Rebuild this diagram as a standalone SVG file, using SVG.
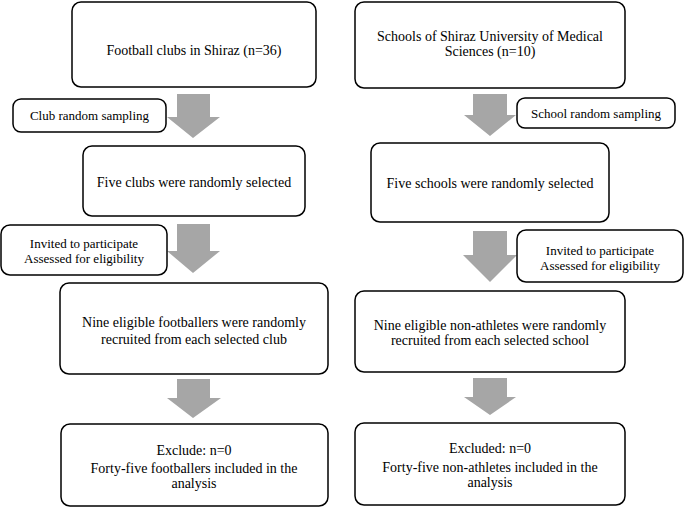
<svg xmlns="http://www.w3.org/2000/svg" width="685" height="507" viewBox="0 0 685 507">
<style>
.box{fill:#fff;stroke:#000;stroke-width:1.5}
.t{font-family:"Liberation Serif","Times New Roman",serif;font-size:14px;fill:#000;text-anchor:middle}
.s{font-size:13px}
.arr{fill:#a6a6a6;stroke:none}
</style>
<rect width="685" height="507" fill="#fff"/>
<g id="connectors">
<polygon class="arr" points="177,94 210,94 210,117 220,117 193,138 167,117 177,117"/>
<polygon class="arr" points="177,224 210,224 210,251 220,251 193,273 167,251 177,251"/>
<polygon class="arr" points="177,379 210,379 210,398 221,398 193,418 167,398 177,398"/>
<polygon class="arr" points="473,94 507,94 507,115 516,115 490,136 464,115 473,115"/>
<polygon class="arr" points="473,231 507,231 507,255 517,255 490,282 463,255 473,255"/>
<polygon class="arr" points="473,378 507,378 507,397 516,397 490,415 464,397 473,397"/>
</g>
<g id="n1"><rect class="box" x="72" y="2" width="244" height="85" rx="9"/><text class="t" x="194" y="55">Football clubs in Shiraz (n=36)</text></g>
<g id="n2"><rect class="box" x="13" y="99" width="153" height="33" rx="8"/><text class="t s" x="89.5" y="120">Club random sampling</text></g>
<g id="n3"><rect class="box" x="83" y="146" width="222" height="70" rx="9"/><text class="t" x="194" y="187">Five clubs were randomly selected</text></g>
<g id="n4"><rect class="box" x="1" y="225" width="166" height="50" rx="9"/><text class="t s" x="84" y="248">Invited to participate</text><text class="t s" x="84" y="263">Assessed for eligibility</text></g>
<g id="n5"><rect class="box" x="60" y="283" width="268" height="91" rx="9"/><text class="t" x="194" y="327">Nine eligible footballers were randomly</text><text class="t" x="194" y="344">recruited from each selected club</text></g>
<g id="n6"><rect class="box" x="61" y="424" width="267" height="82" rx="9"/><text class="t" x="194" y="455">Exclude: n=0</text><text class="t" x="194" y="473">Forty-five footballers included in the</text><text class="t" x="194" y="488">analysis</text></g>
<g id="n7"><rect class="box" x="355" y="2" width="270" height="86" rx="9"/><text class="t" x="490" y="41">Schools of Shiraz University of Medical</text><text class="t" x="490" y="56">Sciences (n=10)</text></g>
<g id="n8"><rect class="box" x="517" y="98" width="158" height="30" rx="8"/><text class="t s" x="596" y="118">School random sampling</text></g>
<g id="n9"><rect class="box" x="371" y="143" width="238" height="79" rx="9"/><text class="t" x="490" y="188">Five schools were randomly selected</text></g>
<g id="n10"><rect class="box" x="517" y="230" width="166" height="52" rx="9"/><text class="t s" x="600" y="255">Invited to participate</text><text class="t s" x="600" y="270">Assessed for eligibility</text></g>
<g id="n11"><rect class="box" x="355" y="291" width="270" height="81" rx="9"/><text class="t" x="490" y="330">Nine eligible non-athletes were randomly</text><text class="t" x="490" y="345">recruited from each selected school</text></g>
<g id="n12"><rect class="box" x="355" y="423" width="270" height="82" rx="9"/><text class="t" x="490" y="453">Excluded: n=0</text><text class="t" x="490" y="472">Forty-five non-athletes included in the</text><text class="t" x="490" y="487">analysis</text></g>
</svg>
